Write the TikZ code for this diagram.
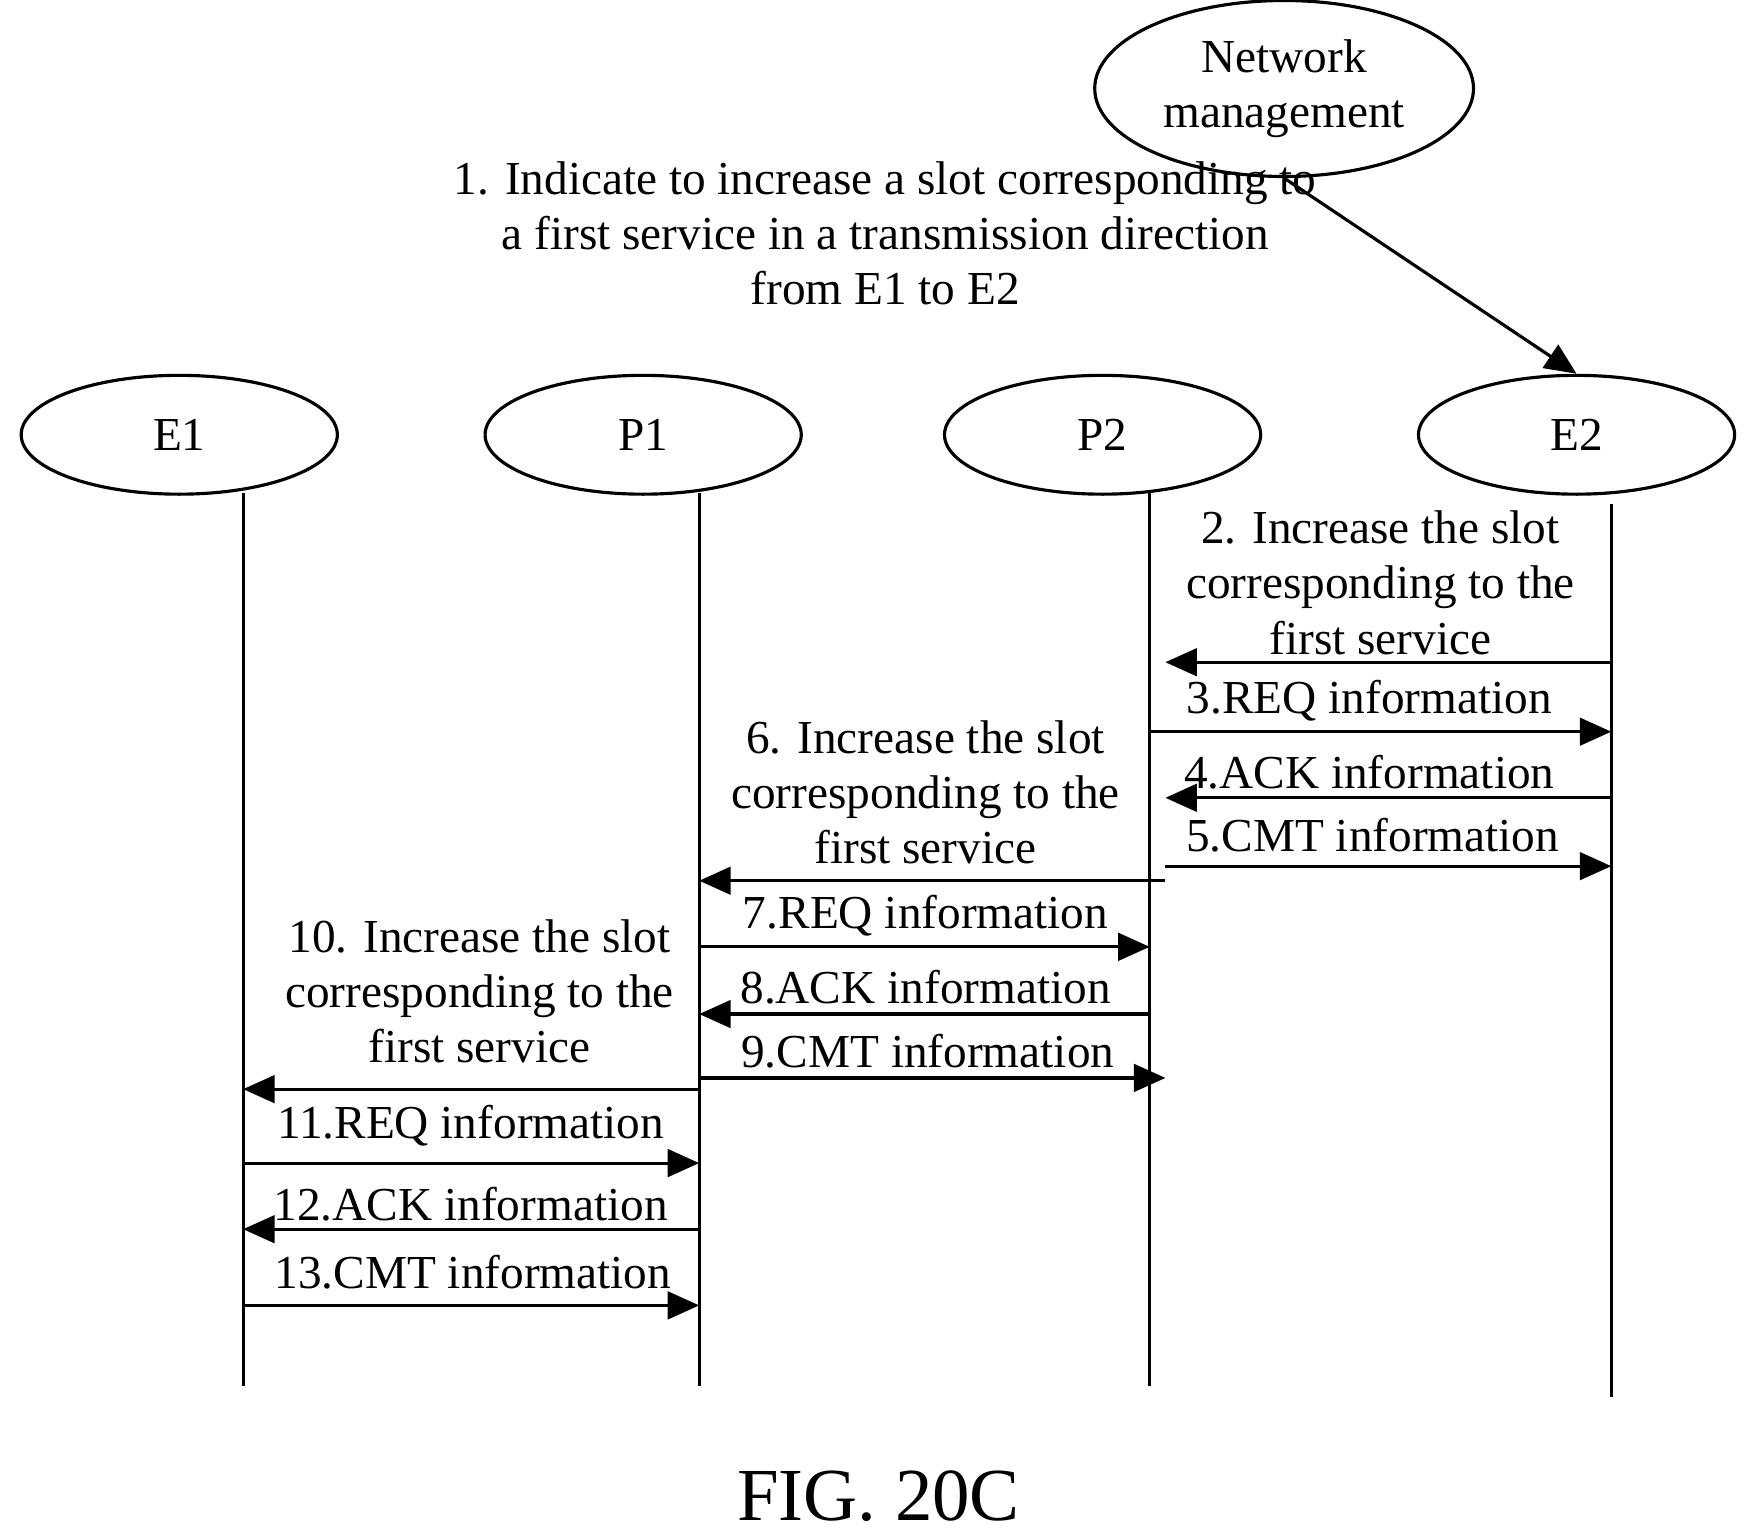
\documentclass[tikz,border=0pt]{standalone}
\usepackage{fontspec}
\setmainfont{Liberation Serif}
\usetikzlibrary{positioning, arrows.meta, shapes.geometric}
\tikzset{B/.style={draw, thick, ellipse, minimum width=2.82cm, minimum height=1.06cm, font=\fontsize{12}{14}\selectfont}}
\tikzset{E/.style={draw, thick, -{Triangle[length=8pt,width=7pt]}}}
\tikzset{L/.style={draw, thick}}
\tikzset{T/.style={font=\fontsize{12}{14}\selectfont, align=center, inner sep=1pt}}
\begin{document}
\begin{tikzpicture}[x=0.01cm, y=-0.01cm]
\useasboundingbox (0,0) rectangle (1560,1367);
%% Nodes
\node[B, minimum width=2.96cm, minimum height=1.16cm, align=center] (nm) at (1146,79) {Network\\management};
\node[B] (e1) at (160,388) {E1};
\node[B] (p1) at (574,388) {P1};
\node[B] (p2) at (984,388) {P2};
\node[B] (e2) at (1407,388) {E2};
%% Lifelines
\coordinate (e1t) at (217,440); \coordinate (e1b) at (217,1237);
\coordinate (p1t) at (624,440); \coordinate (p1b) at (624,1237);
\coordinate (p2t) at (1026,440); \coordinate (p2b) at (1026,1237);
\coordinate (e2t) at (1438,450); \coordinate (e2b) at (1438,1247);
\foreach \a in {e1,p1,p2,e2} \draw[L] (\a t) -- (\a b);
%% Message heights
\foreach \n/\y in {2/591,3/653,4/712,5/773,6/786,7/845,8/905,9/962,10/972,11/1038,12/1097,13/1165}
  \coordinate (m\n) at (0,\y);
%% Edges
\draw[E] (nm.south) -- (e2.north);
\draw[E] (e2t |- m2) -- ([xshift=4]p2t |- m2);
\draw[E] (p2t |- m3) -- (e2t |- m3);
\draw[E] (e2t |- m4) -- ([xshift=4]p2t |- m4);
\draw[E] ([xshift=4]p2t |- m5) -- (e2t |- m5);
\draw[E] ([xshift=4]p2t |- m6) -- (p1t |- m6);
\draw[E] (p1t |- m7) -- (p2t |- m7);
\draw[E] (p2t |- m8) -- (p1t |- m8);
\draw[E] (p1t |- m9) -- ([xshift=4]p2t |- m9);
\draw[E] (p1t |- m10) -- (e1t |- m10);
\draw[E] (e1t |- m11) -- (p1t |- m11);
\draw[E] (p1t |- m12) -- (e1t |- m12);
\draw[E] (e1t |- m13) -- (p1t |- m13);
%% Labels
\node[T] (t1) at (790,208) {1. Indicate to increase a slot corresponding to\\a first service in a transmission direction\\from E1 to E2};
\node[T] (t2) at (1232,520) {2. Increase the slot\\corresponding to the\\first service};
\node[T] (t3) at (1222,625) {3.REQ information};
\node[T] (t4) at (1222,689) {4.ACK information};
\node[T] (t5) at (1225,745) {5.CMT information};
\node[T] (t6) at (826,707) {6. Increase the slot\\corresponding to the\\first service};
\node[T] (t7) at (826,817) {7.REQ information};
\node[T] (t8) at (826,881) {8.ACK information};
\node[T] (t9) at (828,938) {9.CMT information};
\node[T] (t10) at (428,885) {10. Increase the slot\\corresponding to the\\first service};
\node[T] (t11) at (420,1005) {11.REQ information};
\node[T] (t12) at (420,1075) {12.ACK information};
\node[T] (t13) at (422,1135) {13.CMT information};
\node[font=\fontsize{19}{22}\selectfont] (fig) at (784,1335) {FIG. 20C};
\end{tikzpicture}
\end{document}
